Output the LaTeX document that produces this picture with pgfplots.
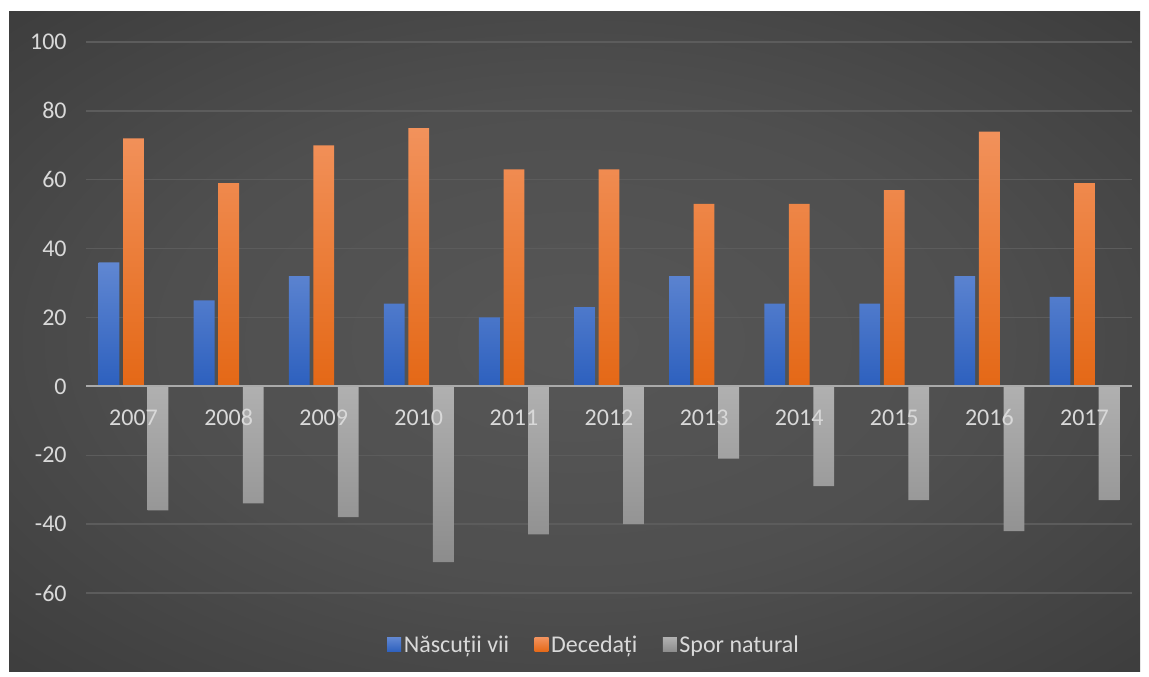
\documentclass[border=0pt]{standalone}
\usepackage{fontspec}
\setmainfont{Carlito}
\usepackage{pgfplots}
\pgfplotsset{compat=1.18}

\definecolor{lbl}{RGB}{217,217,217}
\definecolor{gridc}{RGB}{92,92,92}
\definecolor{zeroc}{RGB}{170,170,170}
\definecolor{blueT}{RGB}{96,135,210}
\definecolor{blueB}{RGB}{45,96,190}
\definecolor{orT}{RGB}{242,146,92}
\definecolor{orB}{RGB}{228,104,22}
\definecolor{grT}{RGB}{176,176,176}
\definecolor{grB}{RGB}{140,140,140}

\pgfdeclareradialshading{bgshade}{\pgfpoint{0bp}{0bp}}{%
  rgb(0bp)=(0.34,0.34,0.34); rgb(18bp)=(0.31,0.31,0.31);
  rgb(38bp)=(0.23,0.23,0.23); rgb(50bp)=(0.17,0.17,0.17)}

\pgfplotsset{chartbox/.style={
    at={(64.5pt,63pt)}, anchor=south west,
    scale only axis,
    width=784.5pt, height=413.25pt,
    xmin=-0.5, xmax=10.5,
    ymin=-60, ymax=100,
    ytick={-60,-40,...,100},
    major tick length=0pt,
}}

\begin{document}
\begin{tikzpicture}
\fill[white] (0pt,0pt) rectangle (861.75pt,507.75pt);
\shade[shading=bgshade] (6.75pt,3.75pt) rectangle (855pt,498.75pt);

% grid only, drawn first so it stays behind the bars
\begin{axis}[chartbox,
    axis line style={draw=none},
    xtick=\empty, yticklabels={},
    ymajorgrids,
    grid style={gridc, line width=1.1pt},
]
\end{axis}

\begin{axis}[chartbox,
    axis on top,
    font=\fontsize{18}{21}\selectfont,
    ybar=2.8pt, bar width=15.6pt,
    xtick={0,...,10},
    xticklabels={2007,2008,2009,2010,2011,2012,2013,2014,2015,2016,2017},
    axis x line=middle, axis y line=left,
    x axis line style={draw=zeroc, line width=1.5pt, -},
    y axis line style={draw=none},
    tick label style={text=lbl},
    xticklabel style={yshift=-14pt, text height=12pt, text depth=0pt},
    yticklabel style={xshift=-11pt},
    /pgf/number format/assume math mode=true,
    legend style={at={(0.486,-0.094)}, anchor=center, draw=none, fill=none,
        text=lbl, font=\fontsize{18}{21}\selectfont,
        /tikz/every even column/.append style={column sep=17pt}},
    legend columns=-1,
    legend image code/.code={\fill[#1] (0pt,-5.25pt) rectangle (10.5pt,5.25pt);},
]
\addplot[draw=none, top color=blueT, bottom color=blueB] coordinates {
 (0,36) (1,25) (2,32) (3,24) (4,20) (5,23) (6,32) (7,24) (8,24) (9,32) (10,26)};
\addplot[draw=none, top color=orT, bottom color=orB] coordinates {
 (0,72) (1,59) (2,70) (3,75) (4,63) (5,63) (6,53) (7,53) (8,57) (9,74) (10,59)};
\addplot[draw=none, top color=grT, bottom color=grB] coordinates {
 (0,-36) (1,-34) (2,-38) (3,-51) (4,-43) (5,-40) (6,-21) (7,-29) (8,-33) (9,-42) (10,-33)};
\legend{Născuții vii, Decedați, Spor natural}
\end{axis}
\end{tikzpicture}
\end{document}
